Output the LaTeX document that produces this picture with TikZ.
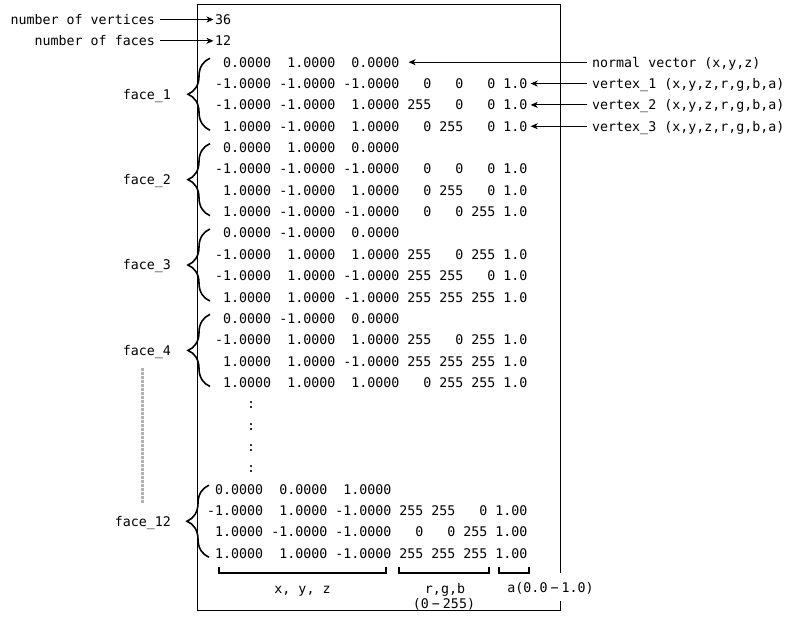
\documentclass[tikz,border=0pt]{standalone}
\usepackage{fontspec}
\newfontfamily\mono{DejaVu Sans Mono}
\usetikzlibrary{arrows.meta,decorations.pathreplacing}
\newcommand{\dsh}{\makebox[14pt]{−}}
\begin{document}
\begin{tikzpicture}[x=1pt,y=-1pt,
  txt/.style={font={\mono\fontsize{13.3}{16}\selectfont}, inner sep=0pt, text height=10pt, text depth=0pt},
  row/.style={txt, anchor=west},
  lbl/.style={txt, anchor=east},
  arr/.style={line width=1pt, -{Stealth[length=7pt,width=6pt,inset=2pt]}},
  facebrace/.style={decorate, decoration={brace, amplitude=22pt}, line width=1.6pt},
  bracket/.style={line width=2pt},
  dotline/.style={line width=3pt, draw=black!30, dash pattern=on 3pt off 1pt}
]
\useasboundingbox (0,0) rectangle (797,617);
% frame
\draw[line width=1pt] (197.5,4.5) rectangle (560.5,610.5);

% header rows
\node[row] (r0) at (215,19.5) {36};
\node[row] (r1) at (215,40.85) {12};
% face 1
\node[row] (r2) at (215,62.2)   {~0.0000~~1.0000~~0.0000};
\node[row] (r3) at (215,83.55)  {-1.0000~-1.0000~-1.0000~~~0~~~0~~~0~1.0};
\node[row] (r4) at (215,104.9)  {-1.0000~-1.0000~~1.0000~255~~~0~~~0~1.0};
\node[row] (r5) at (215,126.25) {~1.0000~-1.0000~~1.0000~~~0~255~~~0~1.0};
% face 2
\node[row] (r6) at (215,147.6)  {~0.0000~~1.0000~~0.0000};
\node[row] (r7) at (215,168.95) {-1.0000~-1.0000~-1.0000~~~0~~~0~~~0~1.0};
\node[row] (r8) at (215,190.3)  {~1.0000~-1.0000~~1.0000~~~0~255~~~0~1.0};
\node[row] (r9) at (215,211.65) {~1.0000~-1.0000~-1.0000~~~0~~~0~255~1.0};
% face 3
\node[row] (r10) at (215,233.0)  {~0.0000~-1.0000~~0.0000};
\node[row] (r11) at (215,254.35) {-1.0000~~1.0000~~1.0000~255~~~0~255~1.0};
\node[row] (r12) at (215,275.7)  {-1.0000~~1.0000~-1.0000~255~255~~~0~1.0};
\node[row] (r13) at (215,297.05) {~1.0000~~1.0000~-1.0000~255~255~255~1.0};
% face 4
\node[row] (r14) at (215,318.4)  {~0.0000~-1.0000~~0.0000};
\node[row] (r15) at (215,339.75) {-1.0000~~1.0000~~1.0000~255~~~0~255~1.0};
\node[row] (r16) at (215,361.1)  {~1.0000~~1.0000~-1.0000~255~255~255~1.0};
\node[row] (r17) at (215,382.45) {~1.0000~~1.0000~~1.0000~~~0~255~255~1.0};
% dots
\node[row] (r18) at (215,403.8)  {~~~~:};
\node[row] (r19) at (215,425.15) {~~~~:};
\node[row] (r20) at (215,446.5)  {~~~~:};
\node[row] (r21) at (215,467.85) {~~~~:};
% face 12
\node[row] (r22) at (207,489.2)  {~0.0000~~0.0000~~1.0000};
\node[row] (r23) at (207,510.55) {-1.0000~~1.0000~-1.0000~255~255~~~0~1.00};
\node[row] (r24) at (207,531.9)  {~1.0000~-1.0000~-1.0000~~~0~~~0~255~1.00};
\node[row] (r25) at (207,553.25) {~1.0000~~1.0000~-1.0000~255~255~255~1.00};

% left labels
\node[lbl] (nv) at (155,19.5) {number of vertices};
\node[lbl] (nf) at (155,40.85) {number of faces};
\draw[arr, shorten <=5pt, shorten >=1.5pt] (nv.east) -- (r0.west);
\draw[arr, shorten <=5pt, shorten >=1.5pt] (nf.east) -- (r1.west);

% right labels
\node[row] (nvec) at (592,62.2)   {normal vector (x,y,z)};
\node[row] (v1)   at (592,83.55)  {vertex\_1 (x,y,z,r,g,b,a)};
\node[row] (v2)   at (592,104.9)  {vertex\_2 (x,y,z,r,g,b,a)};
\node[row] (v3)   at (592,126.25) {vertex\_3 (x,y,z,r,g,b,a)};
\draw[arr, shorten <=5pt] (nvec.west) -- ([xshift=9pt]r2.east);
\draw[arr, shorten <=5pt] (v1.west) -- ([xshift=3pt]r3.east);
\draw[arr, shorten <=5pt] (v2.west) -- ([xshift=3pt]r4.east);
\draw[arr, shorten <=5pt] (v3.west) -- ([xshift=3pt]r5.east);

% face braces and labels
\draw[facebrace] (210,130.25) -- (210,58.2);
\draw[facebrace] (210,215.65) -- (210,143.6);
\draw[facebrace] (210,301.05) -- (210,229.0);
\draw[facebrace] (210,386.45) -- (210,314.4);
\draw[facebrace] (209,557.25) -- (209,485.2);
\node[lbl] (f1) at (171,94.2) {face\_1};
\node[lbl] (f2) at (171,179.6) {face\_2};
\node[lbl] (f3) at (171,265.0) {face\_3};
\node[lbl] (f4) at (171,350.4) {face\_4};
\node[lbl] (f12) at (171,521.2) {face\_12};
\draw[dotline] (142,368) -- (142,503);

% bottom labels
\node[txt, fill=white, inner xsep=1pt, inner ysep=9pt] (alab) at (550.5,587) {a(0.0\dsh1.0)};
\node[txt] (xyzlab) at (302.5,588) {x, y, z};
\node[txt] (rgblab) at (445,588) {r,g,b};
\node[txt] (rgbrng) at (444,603) {(0\dsh255)};
\draw[bracket] (219,567) |- (386,573) -- (386,567);
\draw[bracket] (399,567) |- (489,573) -- (489,567);
\draw[bracket] (499,567) |- (529,573) -- (529,567);
\end{tikzpicture}
\end{document}
